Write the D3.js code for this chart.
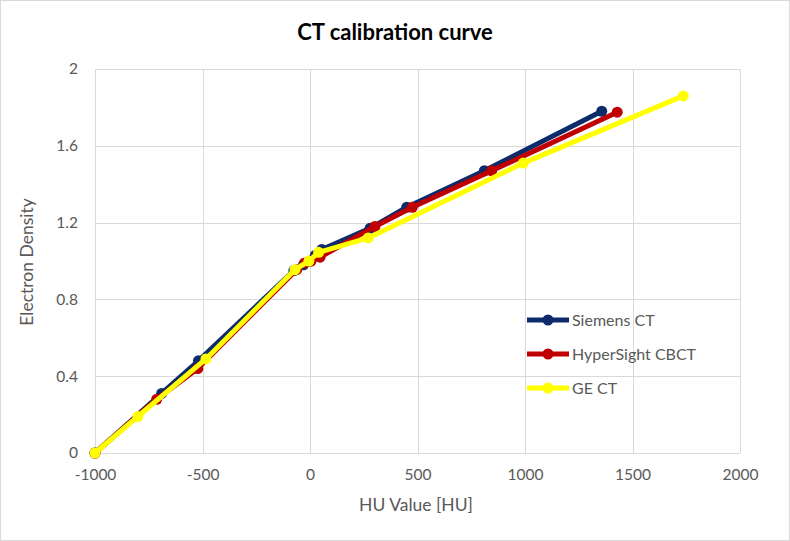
<!DOCTYPE html>
<html><head><meta charset="utf-8">
<script src="https://cdn.jsdelivr.net/npm/d3@7"></script>
<style>body{margin:0;background:#fff}svg{display:block}</style>
</head><body>
<script>
const title = "CT calibration curve";
const xTicks = [-1000, -500, 0, 500, 1000, 1500, 2000];
const yTicks = [0, 0.4, 0.8, 1.2, 1.6, 2];
const seriesNames = ["Siemens CT", "HyperSight CBCT", "GE CT"];
const siemensHU = [-1000, -690, -519, -75, -30, 0, 25, 55, 279, 450, 811, 1357];
const siemensED = [0, 0.31, 0.48, 0.95, 0.98, 1.0, 1.03, 1.06, 1.17, 1.28, 1.47, 1.78];
const hyperHU = [-1000, -713, -522, -62, -25, 5, 47, 302, 476, 845, 1429];
const hyperED = [0, 0.28, 0.44, 0.955, 0.99, 1.0, 1.02, 1.18, 1.28, 1.47, 1.775];
const geHU = [-1000, -801, -484, -70, -5, 40, 271, 992, 1736];
const geED = [0, 0.19, 0.49, 0.955, 1.0, 1.045, 1.12, 1.51, 1.86];
const colors = ["#0d2a6b", "#c00000", "#ffff00"];

const W = 790, H = 541;
const m = {l: 95, r: 50, t: 69, b: 88};
const font = "Lato, 'Open Sans', sans-serif";
const svg = d3.select("body").append("svg").attr("width", W).attr("height", H);
svg.append("rect").attr("x", 0.5).attr("y", 0.5).attr("width", W - 1).attr("height", H - 1)
  .attr("fill", "#fff").attr("stroke", "#d9d9d9");

const x = d3.scaleLinear().domain([-1000, 2000]).range([m.l, W - m.r]);
const y = d3.scaleLinear().domain([0, 2]).range([H - m.b, m.t]);

// gridlines
const g = svg.append("g");
g.selectAll(".vg").data(xTicks).join("line")
  .attr("x1", d => Math.round(x(d)) + 0.5).attr("x2", d => Math.round(x(d)) + 0.5)
  .attr("y1", y(2)).attr("y2", y(0)).attr("stroke", "#d9d9d9").attr("stroke-width", 1);
g.selectAll(".hg").data(yTicks).join("line")
  .attr("y1", d => Math.round(y(d)) + 0.5).attr("y2", d => Math.round(y(d)) + 0.5)
  .attr("x1", x(-1000)).attr("x2", x(2000)).attr("stroke", "#d9d9d9").attr("stroke-width", 1);

// axes
const xAxis = d3.axisBottom(x).tickValues(xTicks).tickSize(0).tickPadding(16).tickFormat(d => String(d));
const yAxis = d3.axisLeft(y).tickValues(yTicks).tickSize(0).tickPadding(17).tickFormat(d => String(d));
const gx = svg.append("g").attr("transform", `translate(0,${y(0)})`).call(xAxis);
const gy = svg.append("g").attr("transform", `translate(${x(-1000)},0)`).call(yAxis);
[gx, gy].forEach(a => {
  a.select(".domain").remove();
  a.selectAll("text").attr("fill", "#595959").style("font-family", font).style("font-size", "15.5px");
});

// titles
svg.append("text").attr("x", 395).attr("y", 40).attr("text-anchor", "middle")
  .style("font-family", font).style("font-weight", "bold").style("font-size", "22px")
  .attr("fill", "#000").text(title);
svg.append("text").attr("x", 416).attr("y", 511).attr("text-anchor", "middle")
  .style("font-family", font).style("font-size", "17.5px").attr("fill", "#595959").text("HU Value [HU]");
svg.append("text").attr("transform", "translate(33,262) rotate(-90)").attr("text-anchor", "middle")
  .style("font-family", font).style("font-size", "17.5px").attr("fill", "#595959").text("Electron Density");

// series
const series = [
  {name: seriesNames[0], xs: siemensHU, ys: siemensED, c: colors[0]},
  {name: seriesNames[1], xs: hyperHU, ys: hyperED, c: colors[1]},
  {name: seriesNames[2], xs: geHU, ys: geED, c: colors[2]}
];
const line = d3.line().x(d => x(d[0])).y(d => y(d[1]));
series.forEach(s => {
  const pts = s.xs.map((v, i) => [v, s.ys[i]]);
  const sg = svg.append("g");
  sg.append("path").attr("d", line(pts)).attr("fill", "none").attr("stroke", s.c)
    .attr("stroke-width", 5).attr("stroke-linejoin", "round").attr("stroke-linecap", "round");
  sg.selectAll("circle").data(pts).join("circle")
    .attr("cx", d => x(d[0])).attr("cy", d => y(d[1])).attr("r", 5.5).attr("fill", s.c);
});

// legend
const lg = svg.append("g");
series.forEach((s, i) => {
  const yy = 320 + i * 34;
  lg.append("line").attr("x1", 527).attr("x2", 569).attr("y1", yy).attr("y2", yy)
    .attr("stroke", s.c).attr("stroke-width", 5);
  lg.append("circle").attr("cx", 548).attr("cy", yy).attr("r", 5.5).attr("fill", s.c);
  lg.append("text").attr("x", 572).attr("y", yy + 5.5).style("font-family", font).style("font-size", "16px")
    .attr("fill", "#595959").text(s.name);
});
</script>
</body></html>
